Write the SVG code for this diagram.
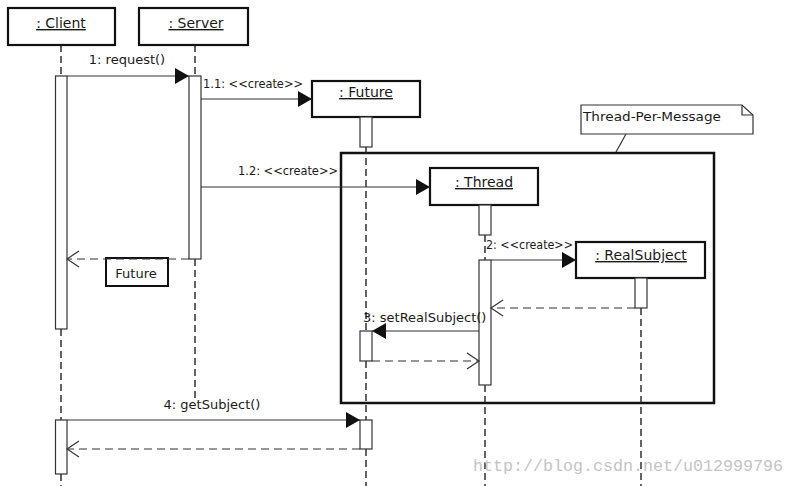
<svg xmlns="http://www.w3.org/2000/svg" width="795" height="486" viewBox="0 0 795 486">
<defs>
<style>
.hdr{fill:#fff;stroke:#111;stroke-width:2.2}
.act{fill:#fff;stroke:#333;stroke-width:1.2}
.life{stroke:#222;stroke-width:1.4;stroke-dasharray:7,4;fill:none}
.msg{stroke:#333;stroke-width:1.2;fill:none}
.ret{stroke:#333;stroke-width:1.2;stroke-dasharray:8,5;fill:none}
text{font-family:"DejaVu Sans",sans-serif;font-size:13px;fill:#1a1a1a}
.t13{font-size:14px;text-decoration:underline}
</style>
<marker id="fill" markerUnits="userSpaceOnUse" markerWidth="14" markerHeight="16" refX="14" refY="8" orient="auto">
<path d="M0,0 L14,8 L0,16 z" fill="#111"/>
</marker>
<marker id="open" markerUnits="userSpaceOnUse" markerWidth="14" markerHeight="18" refX="13" refY="9" orient="auto">
<path d="M1,1 L13,9 L1,17" fill="none" stroke="#333" stroke-width="1.2"/>
</marker>
</defs>
<rect width="795" height="486" fill="#fff"/>

<g id="frame">
<rect x="341" y="153" width="373" height="250" fill="none" stroke="#111" stroke-width="2.5"/>
</g>

<g id="note">
<path d="M581,105 L742,105 L753,115 L753,134 L581,134 Z" fill="#fff" stroke="#333" stroke-width="1.2"/>
<path d="M742,105 L742,115 L753,115" fill="none" stroke="#333" stroke-width="1.2"/>
<text x="583" y="121" textLength="138" lengthAdjust="spacingAndGlyphs">Thread-Per-Message</text>
<line x1="626" y1="134" x2="616" y2="152" stroke="#333" stroke-width="1.2"/>
</g>

<g id="lifelines">
<path class="life" d="M61,45 V76 M61,329 V420 M61,474 V486"/>
<path class="life" d="M195,45 V76 M195,259 V400"/>
<path class="life" d="M366,147 V331 M366,361 V420 M366,449 V486"/>
<path class="life" d="M485,235 V260 M485,385 V486"/>
<path class="life" d="M641,308 V486"/>
</g>

<g id="client">
<rect class="hdr" x="8" y="8" width="107" height="37"/>
<text class="t13" x="61" y="28" text-anchor="middle">: Client</text>
<rect class="act" x="55.5" y="76" width="11.5" height="253"/>
<rect class="act" x="55.5" y="420" width="11.5" height="54"/>
</g>

<g id="server">
<rect class="hdr" x="139" y="8" width="109" height="37"/>
<text class="t13" x="196" y="28" text-anchor="middle">: Server</text>
<rect class="act" x="189" y="76" width="12" height="183"/>
</g>

<g id="future">
<rect class="hdr" x="312" y="81" width="108" height="36"/>
<text class="t13" x="366" y="97" text-anchor="middle">: Future</text>
<rect class="act" x="360" y="117" width="12" height="30"/>
<rect class="act" x="360" y="331" width="12" height="30"/>
<rect class="act" x="360" y="420" width="12" height="29"/>
</g>

<g id="thread">
<rect class="hdr" x="430" y="168" width="108" height="37"/>
<text class="t13" x="484" y="187" text-anchor="middle">: Thread</text>
<rect class="act" x="479" y="205" width="12" height="30"/>
<rect class="act" x="479" y="260" width="12" height="125"/>
</g>

<g id="realsubject">
<rect class="hdr" x="576" y="242" width="129" height="36"/>
<text class="t13" x="641" y="260" text-anchor="middle">: RealSubject</text>
<rect class="act" x="635" y="278" width="12" height="30"/>
</g>

<g id="futurebox">
<rect x="106" y="258" width="62" height="28" fill="#fff" stroke="#111" stroke-width="2"/>
<text x="136" y="278" text-anchor="middle">Future</text>
</g>

<g id="connectors">
<line class="msg" x1="67" y1="76" x2="189" y2="76" marker-end="url(#fill)"/>
<text x="127" y="64" text-anchor="middle">1: request()</text>
<line class="msg" x1="201" y1="99" x2="312" y2="99" marker-end="url(#fill)"/>
<text x="203" y="88" textLength="100" lengthAdjust="spacingAndGlyphs">1.1: &lt;&lt;create&gt;&gt;</text>
<line class="msg" x1="201" y1="187" x2="430" y2="187" marker-end="url(#fill)"/>
<text x="238" y="175" textLength="100" lengthAdjust="spacingAndGlyphs">1.2: &lt;&lt;create&gt;&gt;</text>
<line class="ret" x1="189" y1="259" x2="67" y2="259" marker-end="url(#open)"/>
<line class="msg" x1="491" y1="260" x2="576" y2="260" marker-end="url(#fill)"/>
<text x="486" y="249" textLength="87" lengthAdjust="spacingAndGlyphs">2: &lt;&lt;create&gt;&gt;</text>
<line class="ret" x1="635" y1="308" x2="491" y2="308" marker-end="url(#open)"/>
<line class="msg" x1="479" y1="331" x2="372" y2="331" marker-end="url(#fill)"/>
<text x="363" y="322">3: setRealSubject()</text>
<line class="ret" x1="372" y1="361" x2="479" y2="361" marker-end="url(#open)"/>
<line class="msg" x1="67" y1="420" x2="360" y2="420" marker-end="url(#fill)"/>
<text x="212" y="409" text-anchor="middle">4: getSubject()</text>
<line class="ret" x1="360" y1="449" x2="67" y2="449" marker-end="url(#open)"/>
</g>

<text x="473" y="471" style="font-family:'Liberation Mono',monospace;font-size:16px;fill:#c4c4c4" textLength="310" lengthAdjust="spacingAndGlyphs">http://blog.csdn.net/u012999796</text>
</svg>
